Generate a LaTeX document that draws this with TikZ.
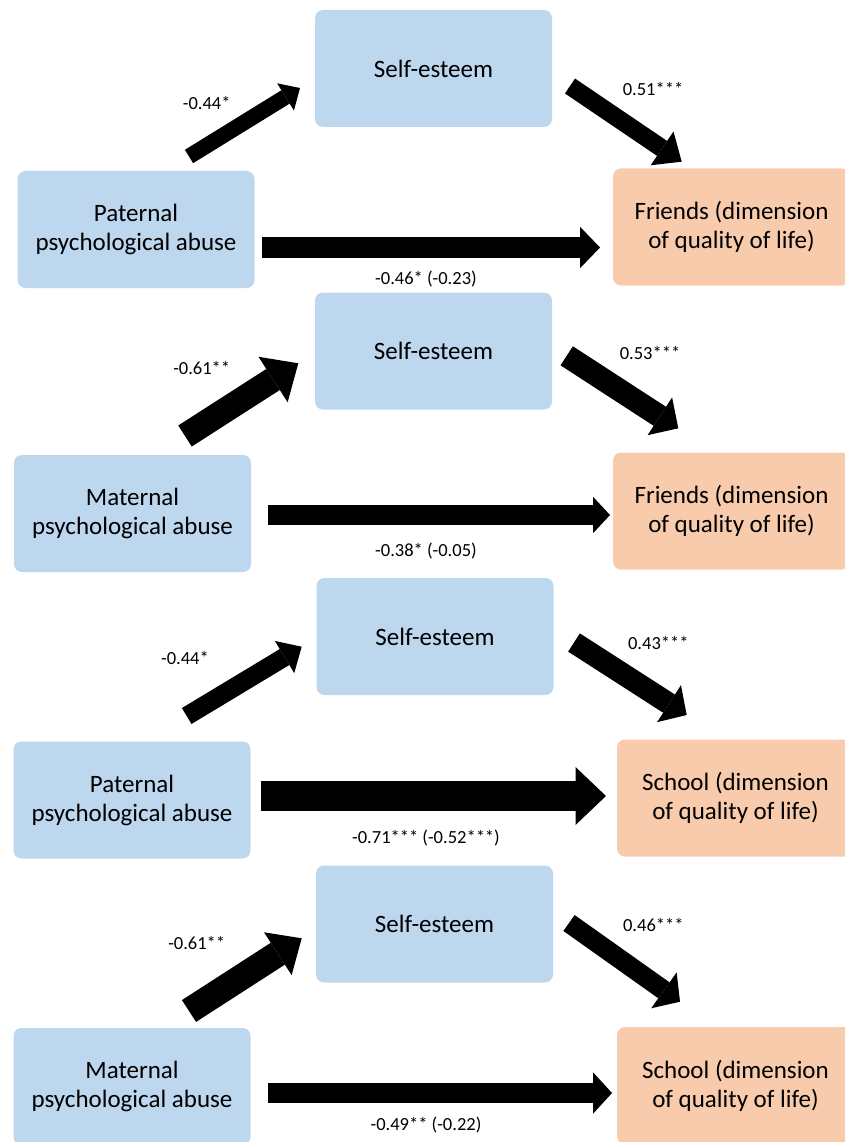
\documentclass[tikz,border=0pt]{standalone}
\usepackage{fontspec}
\setmainfont{Carlito}
\usetikzlibrary{arrows.meta}
\definecolor{boxblue}{RGB}{189,215,238}
\definecolor{boxorange}{RGB}{248,203,173}

\begin{document}
\begin{tikzpicture}[x=1pt,y=-1pt,
  var/.style={rectangle, rounded corners=8pt, minimum width=237pt, minimum height=117pt,
    inner sep=0pt, align=center, font=\fontsize{25}{29}\selectfont},
  medbox/.style={var, fill=boxblue},
  predbox/.style={var, fill=boxblue},
  outbox/.style={var, fill=boxorange},
  coef/.style={inner sep=0pt, anchor=base, font=\fontsize{18.5}{22}\selectfont},
  effect/.style args={#1/#2/#3}{line width=#1pt,
    -{Triangle[length=#3pt,width=#2pt,line width=0pt]}}
]
\useasboundingbox (0,0) rectangle (845,1142);

% ---------- Model 1: paternal abuse -> friends ----------
\node[medbox]  (se1) at (433.5,68.5) {Self-esteem};
\node[predbox] (pa1) at (136,229.5) {Paternal\\psychological abuse};
\node[outbox]  (fr1) at (731.5,227) {Friends (dimension\\of quality of life)};
\coordinate (a1s) at (189,156.5);   \coordinate (a1e) at (300,88);
\coordinate (b1s) at (570,86);      \coordinate (b1e) at (681.7,161.7);
\coordinate (c1s) at (262,247.5);   \coordinate (c1e) at (600,247.5);
\draw[effect=15.7/32/17]   (a1s) -- (a1e);
\draw[effect=18/40.7/23.7] (b1s) -- (b1e);
\draw[effect=21.5/41.5/20] (c1s) -- (c1e);
\node[coef] (ka1) at (206.7,109.5) {-0.44*};
\node[coef] (kb1) at (653,96) {0.51***};
\node[coef] (kc1) at (426,284) {-0.46* (-0.23)};

% ---------- Model 2: maternal abuse -> friends ----------
\node[medbox]  (se2) at (433.5,351) {Self-esteem};
\node[predbox] (ma2) at (132.5,513.5) {Maternal\\psychological abuse};
\node[outbox]  (fr2) at (731.5,511) {Friends (dimension\\of quality of life)};
\coordinate (a2s) at (185,436);     \coordinate (a2e) at (298.3,363.3);
\coordinate (b2s) at (566.7,355.8); \coordinate (b2e) at (678.3,428.3);
\coordinate (c2s) at (268,515);     \coordinate (c2e) at (610,515);
\draw[effect=25/54/30]     (a2s) -- (a2e);
\draw[effect=22.7/45/22]   (b2s) -- (b2e);
\draw[effect=20/36.5/17]   (c2s) -- (c2e);
\node[coef] (ka2) at (201.7,374.5) {-0.61**};
\node[coef] (kb2) at (650,359.5) {0.53***};
\node[coef] (kc2) at (426,556) {-0.38* (-0.05)};

% ---------- Model 3: paternal abuse -> school ----------
\node[medbox]  (se3) at (435,636.5) {Self-esteem};
\node[predbox] (pa3) at (132,800) {Paternal\\psychological abuse};
\node[outbox]  (sc3) at (735.5,798) {School (dimension\\of quality of life)};
\coordinate (a3s) at (186.7,716);   \coordinate (a3e) at (301.7,646.7);
\coordinate (b3s) at (574,642.5);   \coordinate (b3e) at (686.7,715);
\coordinate (c3s) at (261,796);     \coordinate (c3e) at (606,796);
\draw[effect=18.6/37.5/20] (a3s) -- (a3e);
\draw[effect=21.7/44/21]   (b3s) -- (b3e);
\draw[effect=30/58/30.5]   (c3s) -- (c3e);
\node[coef] (ka3) at (185,664.5) {-0.44*};
\node[coef] (kb3) at (658.3,649.5) {0.43***};
\node[coef] (kc3) at (426,843) {-0.71*** (-0.52***)};

% ---------- Model 4: maternal abuse -> school ----------
\node[medbox]  (se4) at (434.5,924) {Self-esteem};
\node[predbox] (ma4) at (132,1086.5) {Maternal\\psychological abuse};
\node[outbox]  (sc4) at (735.5,1085.5) {School (dimension\\of quality of life)};
\coordinate (a4s) at (189,1011);    \coordinate (a4e) at (301.7,938.3);
\coordinate (b4s) at (569,923);     \coordinate (b4e) at (680,1001.7);
\coordinate (c4s) at (268,1093);    \coordinate (c4e) at (612,1093);
\draw[effect=26/51/28.4]   (a4s) -- (a4e);
\draw[effect=19.5/44/19.7] (b4s) -- (b4e);
\draw[effect=20/41.5/19]   (c4s) -- (c4e);
\node[coef] (ka4) at (196.7,949.5) {-0.61**};
\node[coef] (kb4) at (653.3,931) {0.46***};
\node[coef] (kc4) at (426,1130) {-0.49** (-0.22)};
\end{tikzpicture}
\end{document}
